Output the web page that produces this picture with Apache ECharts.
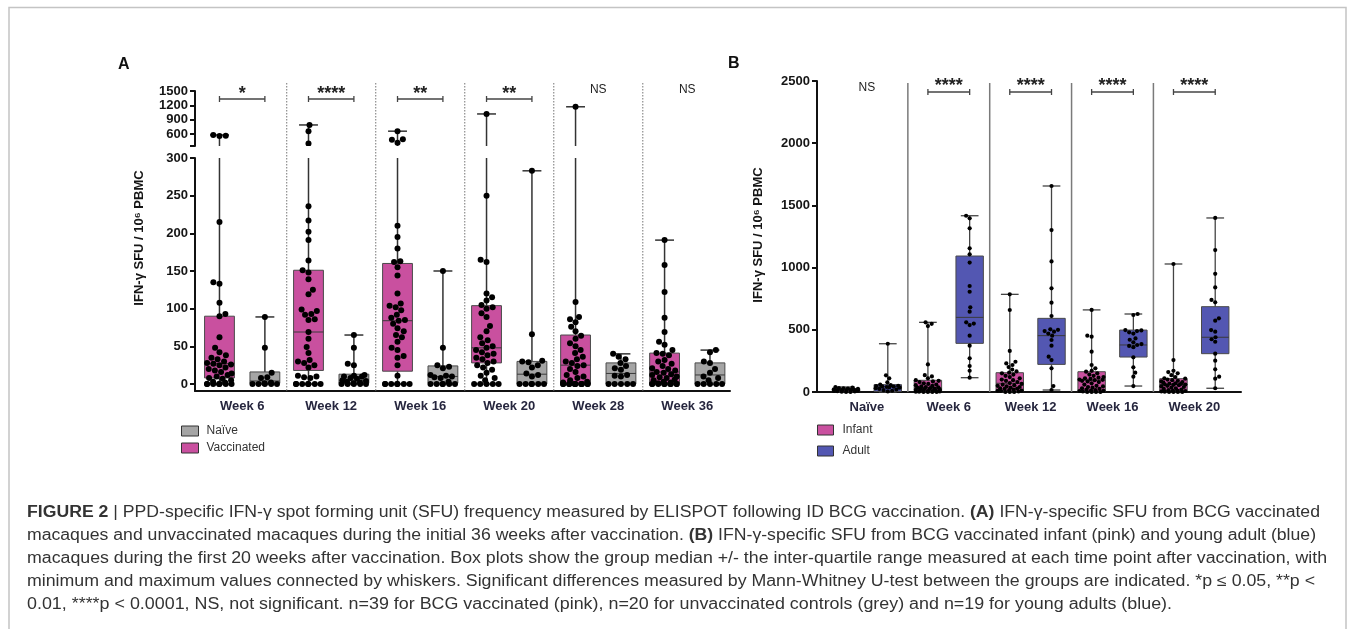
<!DOCTYPE html>
<html><head><meta charset="utf-8">
<script src="https://cdn.jsdelivr.net/npm/echarts@6/dist/echarts.min.js"></script>
<style>html,body{margin:0;padding:0;background:#fff}#c{width:1355px;height:629px}</style>
</head><body><div id="c"></div>
<script>
// ---------------- Panel A data ----------------
const weeksA = ['Week 6', 'Week 12', 'Week 16', 'Week 20', 'Week 28', 'Week 36'];
const ticksAtop = [600, 900, 1200, 1500];
const ticksAbot = [0, 50, 100, 150, 200, 250, 300];
const sigA = ['*', '****', '**', '**', 'NS', 'NS'];
// [min, q1, median, q3, max]
const vaccBoxA = [
  [0, 8, 27, 90, 580], [0, 18, 69, 151, 790], [0, 17, 84, 160, 660],
  [0, 28, 48, 104, 1020], [0, 0, 25, 65, 1170], [0, 1, 16, 41, 191]
];
const naiveBoxA = [
  [0, 1, 4, 16, 89], [0, 1, 5, 13, 65], [0, 1, 10, 24, 150],
  [0, 0, 13, 30, 283], [0, 0, 14, 28, 40], [0, 0, 12, 28, 45]
];
const vaccPtsA = [
  [580, 565, 560, 215, 135, 133, 108, 93, 90, 62, 48, 42, 38, 35, 33, 30, 28, 27, 26, 25, 22, 20, 18, 16, 14, 12, 10, 8, 7, 5, 3, 2, 0, 0, 0, 0, 0, 0, 0],
  [790, 660, 400, 236, 217, 202, 191, 164, 151, 148, 139, 125, 119, 99, 97, 93, 92, 86, 85, 69, 60, 49, 41, 32, 30, 28, 25, 22, 11, 10, 9, 8, 0, 0, 0, 0, 0, 0, 0],
  [660, 490, 480, 420, 210, 195, 180, 163, 162, 155, 144, 120, 107, 104, 102, 98, 92, 88, 85, 84, 80, 74, 70, 65, 62, 56, 48, 45, 37, 35, 25, 11, 0, 0, 0, 0, 0, 0, 0],
  [1020, 250, 165, 162, 120, 115, 111, 105, 102, 100, 94, 89, 77, 70, 62, 58, 54, 50, 48, 45, 42, 40, 38, 35, 33, 30, 28, 25, 22, 19, 15, 11, 8, 5, 0, 0, 0, 0, 0],
  [1170, 109, 89, 86, 82, 76, 70, 64, 60, 54, 50, 45, 41, 36, 33, 30, 28, 25, 24, 20, 16, 12, 10, 8, 5, 3, 2, 0, 0, 0, 0, 0, 0, 0, 0, 0, 0, 0, 0],
  [191, 158, 122, 88, 69, 56, 52, 45, 41, 40, 38, 32, 30, 27, 24, 21, 20, 18, 16, 15, 13, 12, 10, 9, 8, 6, 5, 3, 2, 1, 0, 0, 0, 0, 0, 0, 0, 0, 0]
];
const naivePtsA = [
  [89, 48, 15, 9, 8, 2, 1, 0, 0, 0, 0, 0],
  [65, 48, 27, 25, 12, 11, 10, 10, 8, 7, 5, 4, 3, 2, 1, 0, 0, 0, 0, 0],
  [150, 48, 25, 23, 21, 12, 11, 10, 9, 8, 3, 0, 0, 0, 0, 0, 0],
  [283, 66, 31, 30, 29, 25, 22, 14, 12, 10, 0, 0, 0, 0, 0, 0],
  [40, 36, 33, 28, 24, 21, 19, 12, 11, 10, 0, 0, 0, 0, 0],
  [45, 42, 30, 28, 20, 15, 10, 8, 5, 0, 0, 0, 0, 0]
];
// ---------------- Panel B data ----------------
const groupsB = ['Naïve', 'Week 6', 'Week 12', 'Week 16', 'Week 20'];
const ticksB = [0, 500, 1000, 1500, 2000, 2500];
const sigB = ['NS', '****', '****', '****', '****'];
const infantBoxB = [
  [0, 5, 15, 28, 40], [0, 5, 35, 94, 560], [0, 8, 70, 155, 785],
  [0, 5, 95, 163, 660], [0, 10, 60, 107, 1029]
];
const adultBoxB = [
  [0, 5, 43, 59, 388], [115, 391, 600, 1093, 1417], [16, 222, 453, 592, 1656],
  [48, 281, 378, 498, 627], [30, 308, 440, 686, 1399]
];
const infantPtsB = [
  [40, 35, 32, 30, 28, 25, 22, 20, 18, 15, 14, 12, 10, 8, 6, 5, 3, 0, 0],
  [560, 548, 530, 222, 135, 125, 110, 95, 90, 85, 80, 70, 65, 60, 55, 50, 45, 40, 38, 35, 32, 30, 28, 25, 22, 20, 18, 15, 12, 10, 8, 6, 5, 3, 2, 0, 0, 0, 0],
  [785, 659, 330, 243, 230, 217, 200, 180, 165, 155, 150, 140, 130, 120, 110, 100, 95, 90, 80, 72, 65, 60, 55, 50, 45, 40, 35, 30, 28, 25, 20, 15, 12, 10, 8, 5, 0, 0, 0],
  [660, 453, 445, 324, 217, 190, 170, 163, 150, 140, 130, 120, 115, 110, 105, 100, 98, 95, 90, 85, 80, 70, 60, 50, 45, 40, 35, 30, 25, 20, 15, 12, 10, 8, 5, 0, 0, 0, 0],
  [1029, 257, 171, 160, 150, 135, 120, 110, 107, 100, 95, 90, 85, 80, 75, 70, 68, 65, 62, 60, 58, 55, 50, 45, 40, 35, 30, 25, 20, 15, 12, 10, 8, 5, 3, 0, 0, 0, 0]
];
const adultPtsB = [
  [388, 134, 110, 78, 60, 55, 50, 48, 45, 43, 40, 38, 35, 30, 25, 20, 15, 10, 5],
  [1417, 1396, 1316, 1155, 1107, 1040, 852, 806, 681, 646, 560, 550, 538, 453, 372, 271, 209, 171, 115],
  [1656, 1302, 1050, 833, 718, 611, 504, 500, 490, 485, 470, 453, 418, 372, 284, 257, 190, 48, 16],
  [627, 619, 498, 495, 490, 480, 470, 431, 420, 400, 385, 378, 370, 360, 279, 198, 155, 123, 48],
  [1399, 1141, 950, 841, 740, 721, 592, 573, 498, 485, 440, 424, 404, 308, 252, 182, 123, 107, 30]
];
const captionLines = [
  '{b|FIGURE 2} | PPD-specific IFN-γ spot forming unit (SFU) frequency measured by ELISPOT following ID BCG vaccination. {b|(A)} IFN-γ-specific SFU from BCG vaccinated',
  'macaques and unvaccinated macaques during the initial 36 weeks after vaccination. {b|(B)} IFN-γ-specific SFU from BCG vaccinated infant (pink) and young adult (blue)',
  'macaques during the first 20 weeks after vaccination. Box plots show the group median +/- the inter-quartile range measured at each time point after vaccination, with',
  'minimum and maximum values connected by whiskers. Significant differences measured by Mann-Whitney U-test between the groups are indicated. *p ≤ 0.05, **p <',
  '0.01, ****p < 0.0001, NS, not significant. n=39 for BCG vaccinated (pink), n=20 for unvaccinated controls (grey) and n=19 for young adults (blue).'
];

// ---------------- styling / layout ----------------
const FONT = '"Liberation Sans", Arial, Helvetica, sans-serif';
const PINK = '#c9509f', GREY = '#a5a5a5', BLUE = '#5357b2';
const OFF = 0.255, BOXW = 0.335;
const CAP_ENDS = [1320, 1316, 1327, 1315, 1172];
const CAP_FS = 16;

function swarm(ys, d, maxOff) {
  const n = ys.length, xs = new Array(n);
  const order = ys.map((_, k) => k).sort((a, b) => ys[b] - ys[a] || a - b);
  const placed = [];
  let side = 1;
  for (const k of order) {
    const y = ys[k];
    const near = placed.filter(p => Math.abs(p.y - y) < d);
    const wOf = p => Math.sqrt(d * d - (p.y - y) * (p.y - y));
    const iv = near.map(p => { const w = wOf(p); return [p.x - w, p.x + w]; });
    const free = c => iv.every(([a, b]) => c <= a + 1e-6 || c >= b - 1e-6);
    const cands = [0];
    iv.forEach(([a, b]) => cands.push(a, b));
    let best = null;
    for (const c of cands) {
      if (!free(c)) continue;
      if (best === null || Math.abs(c) < Math.abs(best) - 1e-6 ||
          (Math.abs(Math.abs(c) - Math.abs(best)) < 1e-6 && c * side > 0)) best = c;
    }
    if (Math.abs(best) > maxOff) {
      let bp = Infinity, bc = 0;
      for (let c = -maxOff; c <= maxOff + 1e-6; c += 0.5) {
        let pen = 0;
        near.forEach(p => { pen += Math.max(0, wOf(p) - Math.abs(c - p.x)); });
        if (pen < bp - 1e-6 || (Math.abs(pen - bp) < 1e-6 && c * side > 0 && Math.abs(c) <= Math.abs(bc))) { bp = pen; bc = c; }
      }
      best = bc;
    }
    if (best !== 0) side = best > 0 ? -1 : 1;
    xs[k] = best;
    placed.push({ x: best, y });
  }
  return xs;
}

function boxRender(ptsArr, side, color, dotR, collide, wStyle) {
  return function (params, api) {
    const i = api.value(0);
    const unit = api.size([1, 0])[0];
    const cx = api.coord([i, 0])[0] + side * unit * OFF;
    const bw = unit * BOXW;
    const Y = v => api.coord([i, v])[1];
    const mn = api.value(1), q1 = api.value(2), md = api.value(3), q3 = api.value(4), mx = api.value(5);
    const ch = [];
    const ws = { stroke: wStyle.c, lineWidth: wStyle.w };
    const cw = bw * 0.5;
    ch.push({ type: 'line', shape: { x1: cx, y1: Y(mx), x2: cx, y2: Y(q3) }, style: ws });
    ch.push({ type: 'line', shape: { x1: cx, y1: Y(q1), x2: cx, y2: Y(mn) }, style: ws });
    ch.push({ type: 'line', shape: { x1: cx - cw / 2 - 2, y1: Y(mx), x2: cx + cw / 2 + 2, y2: Y(mx) }, style: ws });
    ch.push({ type: 'line', shape: { x1: cx - cw / 2 - 2, y1: Y(mn), x2: cx + cw / 2 + 2, y2: Y(mn) }, style: ws });
    ch.push({ type: 'rect', shape: { x: cx - bw / 2, y: Y(q3), width: bw, height: Y(q1) - Y(q3) },
      style: { fill: color, stroke: '#4a4a4a', lineWidth: 1 } });
    ch.push({ type: 'line', shape: { x1: cx - bw / 2, y1: Y(md), x2: cx + bw / 2, y2: Y(md) },
      style: { stroke: '#3a3a3a', lineWidth: 1 } });
    const pts = ptsArr[i] || [];
    const ys = pts.map(Y);
    const xs = swarm(ys, collide, bw / 2 - dotR + 0.5);
    for (let k = 0; k < pts.length; k++) {
      ch.push({ type: 'circle', shape: { cx: cx + xs[k], cy: ys[k], r: dotR }, style: { fill: '#000' } });
    }
    return { type: 'group', children: ch };
  };
}

function sepRender(topY, st) {
  return function (params, api) {
    const x = api.coord([api.value(0), 0])[0];
    const cs = params.coordSys;
    return { type: 'line', shape: { x1: x, y1: topY, x2: x, y2: cs.y + cs.height }, style: st };
  };
}

function sigRender(labels, dy) {
  return function (params, api) {
    const i = api.value(0);
    const unit = api.size([1, 0])[0];
    const c = api.coord([i, api.value(1)])[0];
    const cs = params.coordSys;
    const s = labels[i];
    if (s === 'NS') {
      return { type: 'text', x: c, y: cs.y + dy.ns,
        style: { text: 'NS', fontSize: 12, fontFamily: FONT, fill: '#222', align: 'center', verticalAlign: 'middle' } };
    }
    const yb = cs.y + dy.bracket;
    const x1 = c - unit * OFF, x2 = c + unit * OFF;
    const st = { stroke: '#444', lineWidth: 1.3 };
    return { type: 'group', children: [
      { type: 'line', shape: { x1, y1: yb, x2, y2: yb }, style: st },
      { type: 'line', shape: { x1, y1: yb - 3, x2: x1, y2: yb + 3 }, style: st },
      { type: 'line', shape: { x1: x2, y1: yb - 3, x2, y2: yb + 3 }, style: st },
      { type: 'text', x: c, y: cs.y + dy.star,
        style: { text: s, fontSize: 18, fontWeight: 'bold', fontFamily: FONT, fill: '#222', align: 'center', verticalAlign: 'middle' } }
    ] };
  };
}

const boxData = arr => arr.map((b, i) => [i].concat(b));
const sepData = arr => arr.slice(1).map((_, i) => [i + 0.5, 0]);
const sigData = arr => arr.map((_, i) => [i, 0]);

const yLab = { fontSize: 13, fontWeight: 'bold', color: '#151515', fontFamily: FONT, margin: 7, formatter: v => String(v) };
const xLab = { fontSize: 13, fontWeight: 'bold', color: '#26263e', fontFamily: FONT, margin: 9 };
const axLine = { show: true, onZero: false, lineStyle: { color: '#111', width: 2 } };
const axTick = { show: true, length: 5, lineStyle: { color: '#111', width: 2 } };

const WA = { c: '#333', w: 1.5 }, WB = { c: '#444', w: 1.3 };

const option = {
  backgroundColor: '#fff',
  animation: false,
  grid: [
    { left: 195, top: 91, width: 535, height: 55 },
    { left: 195, top: 158, width: 535, height: 233 },
    { left: 817, top: 81, width: 424, height: 311 }
  ],
  xAxis: [
    { gridIndex: 0, type: 'value', min: -0.53, max: 5.48, show: false },
    { gridIndex: 1, type: 'value', min: -0.53, max: 5.48, axisLine: axLine, axisTick: { show: false }, splitLine: { show: false },
      axisLabel: Object.assign({}, xLab, { customValues: weeksA.map((_, i) => i), formatter: v => weeksA[Math.round(v)] }) },
    { gridIndex: 2, type: 'value', min: -0.61, max: 4.57, axisLine: axLine, axisTick: { show: false }, splitLine: { show: false },
      axisLabel: Object.assign({}, xLab, { customValues: groupsB.map((_, i) => i), formatter: v => groupsB[Math.round(v)] }) }
  ],
  yAxis: [
    { gridIndex: 0, type: 'value', min: 350, max: 1500, axisLine: axLine, splitLine: { show: false },
      axisTick: Object.assign({ customValues: [350].concat(ticksAtop) }, axTick),
      axisLabel: Object.assign({ customValues: ticksAtop }, yLab) },
    { gridIndex: 1, type: 'value', min: -9.3, max: 300, axisLine: axLine, splitLine: { show: false },
      axisTick: Object.assign({ customValues: ticksAbot }, axTick),
      axisLabel: Object.assign({ customValues: ticksAbot }, yLab) },
    { gridIndex: 2, type: 'value', min: 0, max: 2500, axisLine: axLine, splitLine: { show: false },
      axisTick: Object.assign({ customValues: ticksB }, axTick),
      axisLabel: Object.assign({ customValues: ticksB }, yLab) }
  ],
  legend: [
    { left: 181, top: 424, orient: 'vertical', padding: 0, itemWidth: 17, itemHeight: 10, itemGap: 3, selectedMode: false,
      textStyle: { fontSize: 12, color: '#333', fontFamily: FONT, lineHeight: 14, padding: [0, 0, 0, 3] },
      data: [
        { name: 'Naïve', icon: 'rect', itemStyle: { color: GREY, borderColor: '#333', borderWidth: 1 } },
        { name: 'Vaccinated', icon: 'rect', itemStyle: { color: PINK, borderColor: '#333', borderWidth: 1 } }
      ] },
    { left: 817, top: 423, orient: 'vertical', padding: 0, itemWidth: 16, itemHeight: 10, itemGap: 7, selectedMode: false,
      textStyle: { fontSize: 12, color: '#333', fontFamily: FONT, lineHeight: 14, padding: [0, 0, 0, 4] },
      data: [
        { name: 'Infant', icon: 'rect', itemStyle: { color: PINK, borderColor: '#333', borderWidth: 1 } },
        { name: 'Adult', icon: 'rect', itemStyle: { color: BLUE, borderColor: '#333', borderWidth: 1 } }
      ] }
  ],
  series: [
    { type: 'custom', name: 'sepA', xAxisIndex: 1, yAxisIndex: 1, data: sepData(weeksA), silent: true,
      renderItem: sepRender(83, { stroke: '#8c8c8c', lineWidth: 1.2, lineDash: [1.5, 1.5] }) },
    { type: 'custom', name: 'sepB', xAxisIndex: 2, yAxisIndex: 2, data: sepData(groupsB), silent: true,
      renderItem: sepRender(83, { stroke: '#7a7a7a', lineWidth: 1.5 }) },
    { type: 'custom', name: 'Vaccinated', xAxisIndex: 0, yAxisIndex: 0, clip: true, itemStyle: { color: PINK },
      data: boxData(vaccBoxA), renderItem: boxRender(vaccPtsA, -1, PINK, 3, 6.3, WA) },
    { type: 'custom', name: 'Naïve', xAxisIndex: 0, yAxisIndex: 0, clip: true, itemStyle: { color: GREY },
      data: boxData(naiveBoxA), renderItem: boxRender(naivePtsA, 1, GREY, 3, 6.3, WA) },
    { type: 'custom', name: 'Vaccinated', xAxisIndex: 1, yAxisIndex: 1, clip: true, itemStyle: { color: PINK },
      data: boxData(vaccBoxA), renderItem: boxRender(vaccPtsA, -1, PINK, 3, 6.3, WA) },
    { type: 'custom', name: 'Naïve', xAxisIndex: 1, yAxisIndex: 1, clip: true, itemStyle: { color: GREY },
      data: boxData(naiveBoxA), renderItem: boxRender(naivePtsA, 1, GREY, 3, 6.3, WA) },
    { type: 'custom', name: 'Infant', xAxisIndex: 2, yAxisIndex: 2, itemStyle: { color: PINK },
      data: boxData(infantBoxB), renderItem: boxRender(infantPtsB, -1, PINK, 2.1, 4.4, WB) },
    { type: 'custom', name: 'Adult', xAxisIndex: 2, yAxisIndex: 2, itemStyle: { color: BLUE },
      data: boxData(adultBoxB), renderItem: boxRender(adultPtsB, 1, BLUE, 2.1, 4.4, WB) },
    { type: 'custom', name: 'sigA', xAxisIndex: 0, yAxisIndex: 0, data: sigData(sigA), silent: true,
      renderItem: sigRender(sigA, { bracket: 8, star: 3, ns: -1 }) },
    { type: 'custom', name: 'sigB', xAxisIndex: 2, yAxisIndex: 2, data: sigData(sigB), silent: true,
      renderItem: sigRender(sigB, { bracket: 11, star: 5, ns: 7 }) }
  ]
};

// caption graphics, fitted to the reference line widths
const ctx = document.createElement('canvas').getContext('2d');
function measure(line) {
  let w = 0; const re = /\{b\|([^}]*)\}|([^{]+)/g; let m;
  while ((m = re.exec(line))) {
    if (m[1] !== undefined) { ctx.font = 'bold ' + CAP_FS + 'px ' + FONT; w += ctx.measureText(m[1]).width; }
    else { ctx.font = CAP_FS + 'px ' + FONT; w += ctx.measureText(m[2]).width; }
  }
  return w;
}
const CAP_X = 27, CAP_Y0 = 513, CAP_DY = 23;
const graphics = [
  { type: 'rect', shape: { x: 9, y: 7.5, width: 1337, height: 700 }, style: { fill: 'none', stroke: '#c4c4c4', lineWidth: 1.5 }, silent: true },
  { type: 'text', x: 118, y: 65, style: { text: 'A', fontSize: 16, fontWeight: 'bold', fontFamily: FONT, fill: '#111', verticalAlign: 'middle' } },
  { type: 'text', x: 728, y: 64, style: { text: 'B', fontSize: 16, fontWeight: 'bold', fontFamily: FONT, fill: '#111', verticalAlign: 'middle' } },
  { type: 'text', x: 139, y: 238, rotation: Math.PI / 2,
    style: { text: 'IFN-γ SFU / 10⁶ PBMC', fontSize: 13, fontWeight: 'bold', fontFamily: FONT, fill: '#151515', align: 'center', verticalAlign: 'middle' } },
  { type: 'text', x: 758, y: 235, rotation: Math.PI / 2,
    style: { text: 'IFN-γ SFU / 10⁶ PBMC', fontSize: 13, fontWeight: 'bold', fontFamily: FONT, fill: '#151515', align: 'center', verticalAlign: 'middle' } }
];
captionLines.forEach((line, k) => {
  const s = (CAP_ENDS[k] - CAP_X) / measure(line);
  graphics.push({ type: 'text', x: CAP_X, y: CAP_Y0 + k * CAP_DY, scaleX: s,
    style: { text: line, fontSize: CAP_FS, fontFamily: FONT, fill: '#333', verticalAlign: 'middle',
      rich: { b: { fontSize: CAP_FS, fontWeight: 'bold', fontFamily: FONT, fill: '#333' } } } });
});
option.graphic = graphics;

const chart = echarts.init(document.getElementById('c'), null, { renderer: 'canvas' });
chart.setOption(option);
</script>
</body></html>
